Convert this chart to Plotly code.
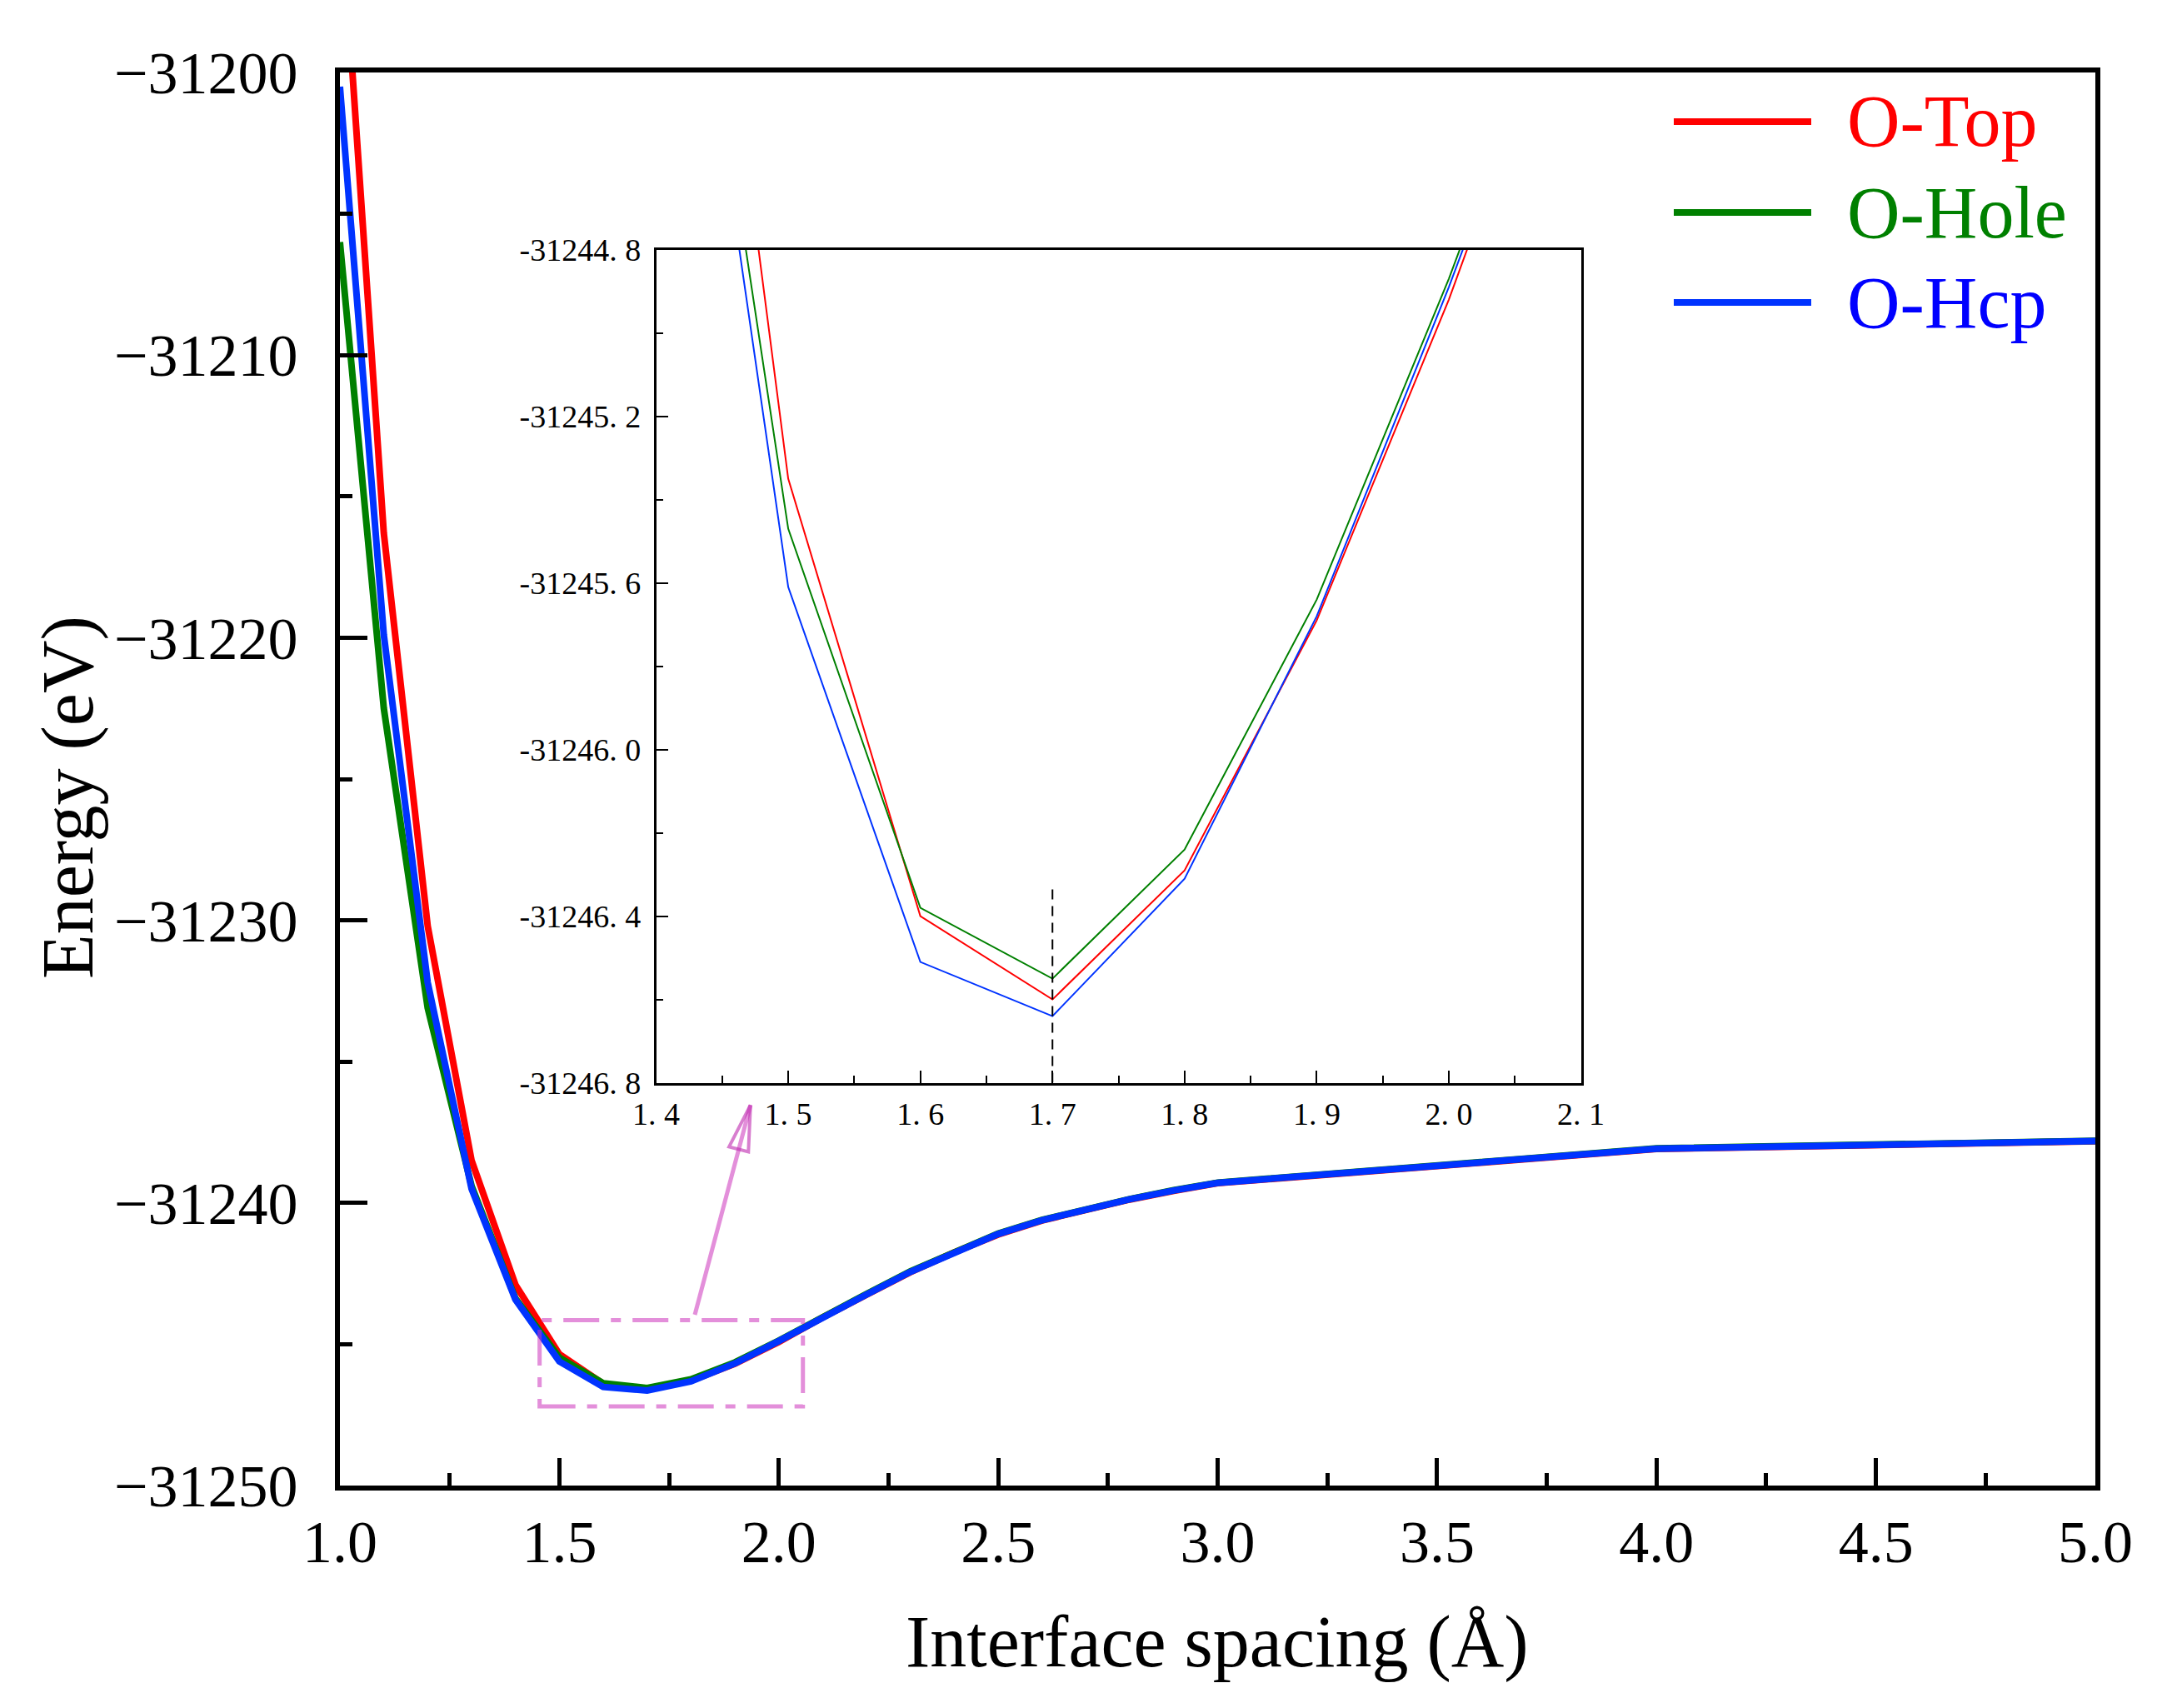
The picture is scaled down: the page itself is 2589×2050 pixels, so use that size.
import numpy as np
import plotly.graph_objects as go

# interface spacing (Å) and total energies (eV)
spacing = [1.0, 1.1, 1.2, 1.3, 1.4, 1.5, 1.6, 1.7, 1.8, 1.9, 2.0,
           2.1, 2.2, 2.3, 2.4, 2.5, 2.6, 2.7, 2.8, 2.9, 3.0, 4.0, 5.0]
o_top = [-31193.5, -31216.3, -31230.2, -31238.5, -31242.9, -31245.35, -31246.40,
         -31246.60, -31246.29, -31245.69, -31244.92, -31244.05, -31243.25, -31242.45,
         -31241.75, -31241.12, -31240.62, -31240.23, -31239.88, -31239.57, -31239.30,
         -31238.09, -31237.82]
o_hole = [-31206.0, -31222.5, -31233.1, -31239.4, -31243.38, -31245.47, -31246.38,
          -31246.55, -31246.24, -31245.64, -31244.87, -31244.02, -31243.22, -31242.42,
          -31241.72, -31241.08, -31240.60, -31240.20, -31239.86, -31239.55, -31239.28,
          -31238.07, -31237.80]
o_hcp = [-31200.5, -31219.9, -31232.2, -31239.5, -31243.42, -31245.61, -31246.51,
         -31246.64, -31246.31, -31245.68, -31244.89, -31244.04, -31243.24, -31242.44,
         -31241.74, -31241.10, -31240.61, -31240.22, -31239.87, -31239.56, -31239.29,
         -31238.08, -31237.81]

series_names = ['O-Top', 'O-Hole', 'O-Hcp']
line_colors = ['#FF0000', '#008000', '#0033FF']
text_colors = ['#FF0000', '#008000', '#0000FF']

# main axis ticks
x_ticks = [1.0, 1.5, 2.0, 2.5, 3.0, 3.5, 4.0, 4.5, 5.0]
x_ticktext = ['1.0', '1.5', '2.0', '2.5', '3.0', '3.5', '4.0', '4.5', '5.0']
y_ticks = [-31250, -31240, -31230, -31220, -31210, -31200]
y_ticktext = ['\u221231250', '\u221231240', '\u221231230', '\u221231220', '\u221231210', '\u221231200']

# inset axis ticks
ix_ticks = [1.4, 1.5, 1.6, 1.7, 1.8, 1.9, 2.0, 2.1]
ix_ticktext = ['1. 4', '1. 5', '1. 6', '1. 7', '1. 8', '1. 9', '2. 0', '2. 1']
iy_ticks = [-31246.8, -31246.4, -31246.0, -31245.6, -31245.2, -31244.8]
iy_ticktext = ['-31246. 8', '-31246. 4', '-31246. 0', '-31245. 6', '-31245. 2', '-31244. 8']

W, H = 2589, 2050
L, R, T, B = 400, 82, 79, 275
pw, ph = W - L - R, H - T - B
xr = [1.0, 5.0]
yr = [-31250, -31200]


def px2data(px, py):
    x = xr[0] + (px - L) / pw * (xr[1] - xr[0])
    y = yr[1] - (py - T) / ph * (yr[1] - yr[0])
    return x, y


def px2paper(px, py):
    return (px - L) / pw, (H - B - py) / ph


fig = go.Figure()
series = [o_top, o_hole, o_hcp]
for name, vals, col in zip(series_names, series, line_colors):
    fig.add_trace(go.Scatter(x=spacing, y=vals, mode='lines', name=name,
                             line=dict(color=col, width=8), xaxis='x', yaxis='y'))
for name, vals, col in zip(series_names, series, line_colors):
    fig.add_trace(go.Scatter(x=spacing, y=vals, mode='lines', name=name,
                             line=dict(color=col, width=2), xaxis='x2', yaxis='y2'))

font_main = 'Liberation Serif'
ix0, iy0 = px2paper(779.5, 1291.6)
ix1, iy1 = px2paper(1889.6, 291.6)

fig.update_layout(
    width=W, height=H,
    margin=dict(l=L, r=R, t=T, b=B),
    paper_bgcolor='white', plot_bgcolor='white',
    showlegend=False,
    font=dict(family=font_main, color='black'),
    xaxis=dict(range=xr, domain=[0, 1], anchor='y', showgrid=False, zeroline=False,
               showline=True, linewidth=6, linecolor='black', mirror=True,
               tickvals=x_ticks, ticktext=x_ticktext, ticks='inside', ticklen=33,
               tickwidth=5, tickcolor='black', tickfont=dict(size=72),
               ticklabelstandoff=0,
               minor=dict(ticks='inside', ticklen=15, tickwidth=5, tickcolor='black',
                          tick0=1.0, dtick=0.25)),
    yaxis=dict(range=yr, domain=[0, 1], anchor='x', showgrid=False, zeroline=False,
               showline=True, linewidth=6, linecolor='black', mirror=True,
               tickvals=y_ticks, ticktext=y_ticktext, ticks='inside', ticklen=33,
               tickwidth=5, tickcolor='black', tickfont=dict(size=72),
               ticklabelstandoff=30,
               minor=dict(ticks='inside', ticklen=15, tickwidth=5, tickcolor='black',
                          tick0=-31250, dtick=5)),
    xaxis2=dict(range=[1.4, 2.1], domain=[ix0, ix1], anchor='y2', showgrid=False,
                zeroline=False, showline=True, linewidth=2.5, linecolor='black',
                mirror=True, tickvals=ix_ticks, ticktext=ix_ticktext, ticks='inside',
                ticklen=15, tickwidth=2, tickcolor='black', tickfont=dict(size=38),
                ticklabelstandoff=2,
                minor=dict(ticks='inside', ticklen=9, tickwidth=2, tickcolor='black',
                           tick0=1.4, dtick=0.05)),
    yaxis2=dict(range=[-31246.8, -31244.8], domain=[iy0, iy1], anchor='x2',
                showgrid=False, zeroline=False, showline=True, linewidth=2.5,
                linecolor='black', mirror=True, tickvals=iy_ticks, ticktext=iy_ticktext,
                ticks='inside', ticklen=15, tickwidth=2, tickcolor='black',
                tickfont=dict(size=38), ticklabelstandoff=8,
                minor=dict(ticks='inside', ticklen=9, tickwidth=2, tickcolor='black',
                           tick0=-31246.8, dtick=0.2)),
)

shapes = []
# zoom box on main plot
shapes.append(dict(type='rect', xref='x', yref='y', x0=1.455, x1=2.055,
                   y0=-31247.2, y1=-31244.15,
                   line=dict(color='rgba(204,51,187,0.55)', width=5,
                             dash='43px,14px,12px,14px')))
# arrow from box to inset
tail = (826.0, 1570.0)
tip = (892.8, 1318.3)
d = np.array(tip) - np.array(tail)
u = d / np.linalg.norm(d)
n = np.array([-u[1], u[0]])
base = np.array(tip) - 55 * u
c1 = base + 12 * n
c2 = base - 12 * n
p_tail = px2data(*tail)
p_tip = px2data(*tip)
p_c1 = px2data(*c1)
p_c2 = px2data(*c2)
shapes.append(dict(type='line', xref='x', yref='y', x0=p_tail[0], y0=p_tail[1],
                   x1=p_tip[0], y1=p_tip[1],
                   line=dict(color='rgba(204,51,187,0.55)', width=5)))
shapes.append(dict(type='path', xref='x', yref='y',
                   path='M {},{} L {},{} L {},{} Z'.format(p_tip[0], p_tip[1], p_c1[0], p_c1[1],
                                                          p_c2[0], p_c2[1]),
                   line=dict(color='rgba(190,40,175,0.6)', width=4)))
# dashed marker at the minimum in the inset
i_min = int(np.argmin(o_top))
shapes.append(dict(type='line', xref='x2', yref='y2', x0=spacing[i_min], x1=spacing[i_min],
                   y0=-31246.8, y1=-31246.32,
                   line=dict(color='black', width=2, dash='12px,8px')))

# legend drawn by hand (long line samples)
annotations = []
rows = [138, 247, 355]
for name, lc, tc, ry in zip(series_names, line_colors, text_colors, rows):
    a0 = px2paper(2001, ry)
    a1 = px2paper(2166, ry)
    shapes.append(dict(type='line', xref='paper', yref='paper', x0=a0[0], x1=a1[0],
                       y0=a0[1], y1=a1[1], line=dict(color=lc, width=8)))
    tx = px2paper(2207, ry)
    annotations.append(dict(xref='paper', yref='paper', x=tx[0], y=tx[1], text=name,
                            showarrow=False, xanchor='left', yanchor='middle',
                            font=dict(size=88, color=tc, family=font_main)))

# axis titles
xt = px2paper(1453, 1962)
yt = px2paper(73, 949)
annotations.append(dict(xref='paper', yref='paper', x=xt[0], y=xt[1],
                        text='Interface spacing (\u00c5)', showarrow=False,
                        xanchor='center', yanchor='middle',
                        font=dict(size=88, family=font_main, color='black')))
annotations.append(dict(xref='paper', yref='paper', x=yt[0], y=yt[1],
                        text='Energy (eV)', showarrow=False, textangle=-90,
                        xanchor='center', yanchor='middle',
                        font=dict(size=88, family=font_main, color='black')))

fig.update_layout(shapes=shapes, annotations=annotations)

fig.write_html("out.html")
